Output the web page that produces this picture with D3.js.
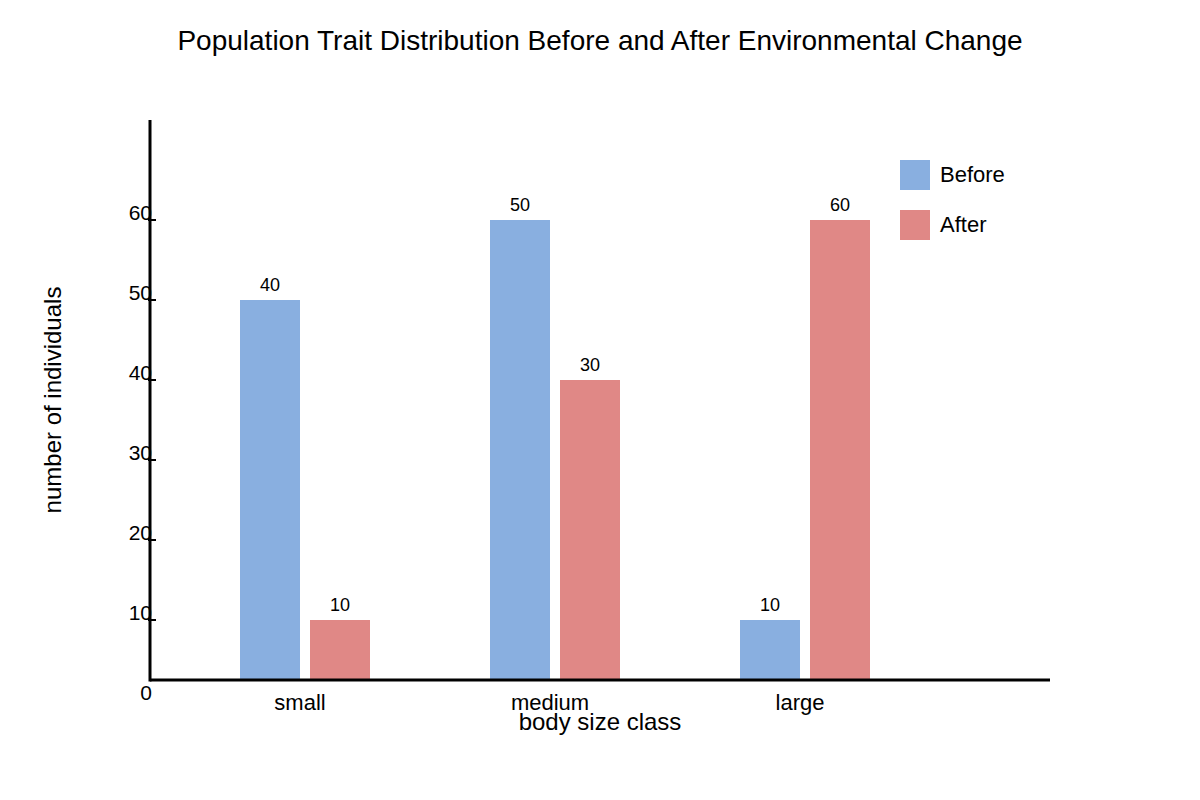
<!DOCTYPE html>
<html>
<head>
<meta charset="utf-8">
<script src="https://cdn.jsdelivr.net/npm/d3@7"></script>
<style>
  body { margin: 0; background: #fff; }
  text { font-family: "Liberation Sans", Arial, sans-serif; fill: #000; }
</style>
</head>
<body>
<svg id="chart" width="1200" height="800"></svg>
<script>
// Kategorier og serier
var categories = ["small", "medium", "large"];
var seriesNames = ["Before", "After"];
// Søjlehøjder aflæst mod y-aksen
var beforeHeights = [50, 60, 10];
var afterHeights = [10, 40, 60];
// Tal skrevet over søjlerne
var beforeLabels = [40, 50, 10];
var afterLabels = [10, 30, 60];
var yTicks = [0, 10, 20, 30, 40, 50, 60];
var colors = { Before: "#89AFE0", After: "#E08886" };

var svg = d3.select("#chart");

// Skalaer
var x = d3.scaleBand().domain(categories).range([175, 925]);
var xSub = d3.scaleBand().domain(seriesNames).range([-60, 70]).paddingInner(1 / 7);
var y = d3.scaleLinear().domain([0, 60]).range([700, 220]);
var baseY = 680;

// Data til søjler
var bars = [];
categories.forEach(function(c, i) {
  bars.push({ cat: c, series: "Before", h: beforeHeights[i], label: beforeLabels[i] });
  bars.push({ cat: c, series: "After", h: afterHeights[i], label: afterLabels[i] });
});

// Titel
svg.append("text")
  .attr("x", 600).attr("y", 50)
  .attr("text-anchor", "middle")
  .style("font-size", "28px")
  .text("Population Trait Distribution Before and After Environmental Change");

// Søjler
svg.append("g").selectAll("rect")
  .data(bars)
  .enter().append("rect")
    .attr("x", function(d) { return x(d.cat) + x.bandwidth() / 2 + xSub(d.series); })
    .attr("y", function(d) { return y(d.h); })
    .attr("width", xSub.bandwidth())
    .attr("height", function(d) { return baseY - y(d.h); })
    .attr("fill", function(d) { return colors[d.series]; });

// Tal over søjler
svg.append("g").selectAll("text")
  .data(bars)
  .enter().append("text")
    .attr("x", function(d) { return x(d.cat) + x.bandwidth() / 2 + xSub(d.series) + xSub.bandwidth() / 2; })
    .attr("y", function(d) { return y(d.h) - 9; })
    .attr("text-anchor", "middle")
    .style("font-size", "18px")
    .text(function(d) { return d.label; });

// Y-akse
var yAxis = svg.append("g");
yAxis.append("line")
  .attr("x1", 150).attr("x2", 150)
  .attr("y1", 120).attr("y2", baseY + 1.5)
  .attr("stroke", "#000").attr("stroke-width", 3);
yAxis.selectAll(".tick")
  .data(yTicks.filter(function(t) { return t > 0; }))
  .enter().append("line")
    .attr("x1", 148).attr("x2", 156)
    .attr("y1", function(d) { return y(d); })
    .attr("y2", function(d) { return y(d); })
    .attr("stroke", "#000").attr("stroke-width", 2);
yAxis.selectAll("text")
  .data(yTicks)
  .enter().append("text")
    .attr("x", 152)
    .attr("y", function(d) { return y(d) - 0.5; })
    .attr("text-anchor", "end")
    .style("font-size", "21px")
    .text(function(d) { return d; });

// X-akse
svg.append("line")
  .attr("x1", 150).attr("x2", 1050)
  .attr("y1", baseY).attr("y2", baseY)
  .attr("stroke", "#000").attr("stroke-width", 3);
svg.append("g").selectAll("text")
  .data(categories)
  .enter().append("text")
    .attr("x", function(d) { return x(d) + x.bandwidth() / 2; })
    .attr("y", 710)
    .attr("text-anchor", "middle")
    .style("font-size", "22px")
    .text(function(d) { return d; });

// Aksetitler
svg.append("text")
  .attr("x", 600).attr("y", 730)
  .attr("text-anchor", "middle")
  .style("font-size", "24px")
  .text("body size class");
svg.append("text")
  .attr("transform", "translate(61,400) rotate(-90)")
  .attr("text-anchor", "middle")
  .style("font-size", "24px")
  .text("number of individuals");

// Forklaring
var legend = svg.append("g").selectAll("g")
  .data(seriesNames)
  .enter().append("g")
    .attr("transform", function(d, i) { return "translate(900," + (160 + i * 50) + ")"; });
legend.append("rect")
  .attr("width", 30).attr("height", 30)
  .attr("fill", function(d) { return colors[d]; });
legend.append("text")
  .attr("x", 40).attr("y", 22)
  .style("font-size", "22px")
  .text(function(d) { return d; });
</script>
</body>
</html>
